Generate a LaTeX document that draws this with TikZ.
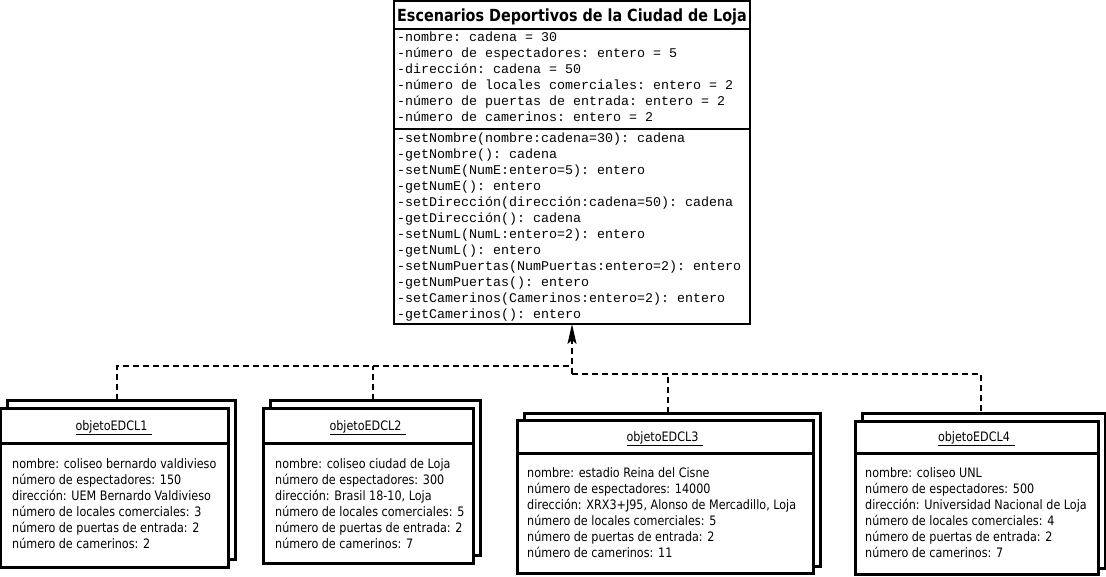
\documentclass[tikz,border=0pt]{standalone}
\usepackage{fontspec}
\setmainfont{DejaVu Sans}[FakeStretch=0.86]
\setmonofont{Liberation Mono}
\usetikzlibrary{arrows.meta}
\begin{document}
\begin{tikzpicture}[x=1pt,y=-1pt,
  classpart/.style={draw, line width=2pt, fill=white, outer sep=0pt, inner sep=0pt, anchor=north west, minimum width=356pt},
  objpart/.style={draw, line width=3pt, fill=white, outer sep=0pt, inner sep=0pt, anchor=north west},
  classname/.style={anchor=base, inner sep=0pt, font=\bfseries\fontsize{16.7}{20}\selectfont},
  membertext/.style={anchor=north west, inner sep=0pt, align=left, font=\ttfamily\fontsize{13.33}{16}\selectfont},
  slottext/.style={anchor=north west, inner sep=0pt, align=left, font=\fontsize{13}{16}\selectfont},
  objtitle/.style={anchor=center, inner sep=0pt, yshift=-2pt, font=\fontsize{13}{14}\selectfont},
  dep/.style={line width=1.5pt, dash pattern=on 6pt off 4pt},
]
\useasboundingbox (0,0) rectangle (1106,576);

% ---- class box: name, attributes, operations ----
\node[classpart, minimum height=28pt]  (clsN) at (394,1)   {};
\node[classpart, minimum height=100pt] (clsA) at (394,29)  {};
\node[classpart, minimum height=195pt] (clsM) at (394,129) {};

\node[classname] (clsname) at (572,21) {Escenarios Deportivos de la Ciudad de Loja};
\node[membertext] (attrs) at (397,30) {\strut-nombre: cadena = 30\\
-número de espectadores: entero = 5\\
-dirección: cadena = 50\\
-número de locales comerciales: entero = 2\\
-número de puertas de entrada: entero = 2\\
-número de camerinos: entero = 2};
\node[membertext] (ops) at (397,131) {\strut-setNombre(nombre:cadena=30): cadena\\
-getNombre(): cadena\\
-setNumE(NumE:entero=5): entero\\
-getNumE(): entero\\
-setDirección(dirección:cadena=50): cadena\\
-getDirección(): cadena\\
-setNumL(NumL:entero=2): entero\\
-getNumL(): entero\\
-setNumPuertas(NumPuertas:entero=2): entero\\
-getNumPuertas(): entero\\
-setCamerinos(Camerinos:entero=2): entero\\
-getCamerinos(): entero};

% ---- object stacks (back sheet, header, slots) ----
\node[objpart, minimum width=228pt, minimum height=159pt] (o1b) at (7,400)   {};
\node[objpart, minimum width=228pt, minimum height=35pt]  (o1h) at (0,408)   {};
\node[objpart, minimum width=228pt, minimum height=124pt] (o1)  at (0,443)   {};

\node[objpart, minimum width=210pt, minimum height=155pt] (o2b) at (270,400) {};
\node[objpart, minimum width=210pt, minimum height=35pt]  (o2h) at (263,408) {};
\node[objpart, minimum width=210pt, minimum height=120pt] (o2)  at (263,443) {};

\node[objpart, minimum width=296pt, minimum height=153pt] (o3b) at (524,413) {};
\node[objpart, minimum width=296pt, minimum height=33pt]  (o3h) at (517,420) {};
\node[objpart, minimum width=296pt, minimum height=120pt] (o3)  at (517,453) {};

\node[objpart, minimum width=243pt, minimum height=155pt] (o4b) at (862,413) {};
\node[objpart, minimum width=243pt, minimum height=32pt]  (o4h) at (855,421) {};
\node[objpart, minimum width=243pt, minimum height=121pt] (o4)  at (855,453) {};

\node[objtitle] (t1) at (o1h.center) {\underline{objetoEDCL1\hspace{5pt}}};
\node[objtitle] (t2) at (o2h.center) {\underline{objetoEDCL2\hspace{5pt}}};
\node[objtitle] (t3) at (o3h.center) {\underline{objetoEDCL3\hspace{5pt}}};
\node[objtitle] (t4) at (o4h.center) {\underline{objetoEDCL4\hspace{5pt}}};

\node[slottext] (s1) at (12,457) {\strut nombre: coliseo bernardo valdivieso\\
número de espectadores: 150\\
dirección: UEM Bernardo Valdivieso\\
número de locales comerciales: 3\\
número de puertas de entrada: 2\\
número de camerinos: 2};
\node[slottext] (s2) at (275,457) {\strut nombre: coliseo ciudad de Loja\\
número de espectadores: 300\\
dirección: Brasil 18-10, Loja\\
número de locales comerciales: 5\\
número de puertas de entrada: 2\\
número de camerinos: 7};
\node[slottext] (s3) at (527,466) {\strut nombre: estadio Reina del Cisne\\
número de espectadores: 14000\\
dirección: XRX3+J95, Alonso de Mercadillo, Loja\\
número de locales comerciales: 5\\
número de puertas de entrada: 2\\
número de camerinos: 11};
\node[slottext] (s4) at (865,466) {\strut nombre: coliseo UNL\\
número de espectadores: 500\\
dirección: Universidad Nacional de Loja\\
número de locales comerciales: 4\\
número de puertas de entrada: 2\\
número de camerinos: 7};

% ---- instance-of dependencies ----
\coordinate (jl) at (117,366);
\coordinate (j2) at (373,366);
\coordinate (jr) at (572,374);
\coordinate (j3) at (668,374);
\coordinate (j4) at (981,374);

\draw[dep] (o1b.north -| jl) -- (jl) -- (clsM.south |- jl);
\draw[dep] (o2b.north -| j2) -- (j2);
\draw[dep] (jr) -- (j4) -- (o4b.north -| j4);
\draw[dep] (o3b.north -| j3) -- (j3);
\draw[dep, -{Stealth[length=20pt, width=9pt, inset=4pt]}] (jr) -- (clsM.south);
\end{tikzpicture}
\end{document}
